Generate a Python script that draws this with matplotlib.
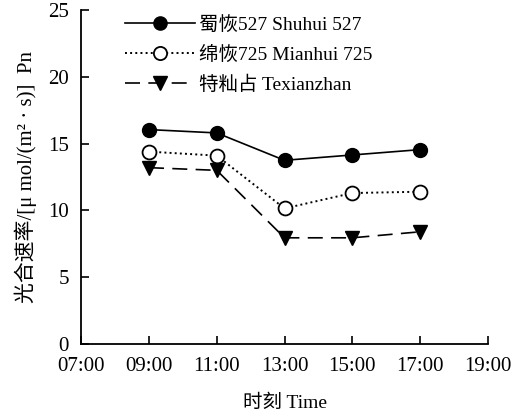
import matplotlib.pyplot as plt

plt.rcParams['font.family'] = ['Liberation Serif', 'Noto Sans CJK SC']

hours = [9, 11, 13, 15, 17]
shuhui = [16.05, 15.8, 13.75, 14.15, 14.55]
mianhui = [14.4, 14.1, 10.15, 11.3, 11.4]
texianzhan = [13.2, 13.0, 7.95, 7.95, 8.4]

tick_hours = [7, 9, 11, 13, 15, 17, 19]
tick_labels = ['07:00', '09:00', '11:00', '13:00', '15:00', '17:00', '19:00']

fig = plt.figure(figsize=(5.24, 4.17), dpi=100)
ax = fig.add_axes([0.155, 0.175, 0.776, 0.801])

ax.plot(hours, shuhui, '-', color='black', lw=1.2, marker='o', ms=10,
        mfc='black', mec='black', label='蜀恢527 Shuhui 527')
ax.plot(hours, mianhui, ':', color='black', lw=1.4, marker='o', ms=10,
        mfc='white', mec='black', mew=1.3, label='绵恢725 Mianhui 725')
ax.plot(hours, texianzhan, color='black', lw=1.2, dashes=(9, 5), marker='v', ms=10,
        mfc='black', mec='black', label='特籼占 Texianzhan')

ax.set_xlim(7, 19)
ax.set_ylim(0, 25)
ax.set_xticks(tick_hours)
ax.set_xticklabels(tick_labels)
ax.set_yticks([0, 5, 10, 15, 20, 25])
ax.tick_params(direction='in', length=6, width=1.2, labelsize=15, pad=9)
for s in ['top', 'right']:
    ax.spines[s].set_visible(False)
for s in ['left', 'bottom']:
    ax.spines[s].set_linewidth(1.3)

ax.set_ylabel('光合速率/[μ mol/(m² · s)]  Pn', fontsize=15, labelpad=8)
ax.set_xlabel('时刻 Time', fontsize=14, labelpad=14)

ax.legend(loc='upper left', bbox_to_anchor=(0.065, 1.035), frameon=False,
          fontsize=14, handlelength=3.6, handletextpad=0.2, labelspacing=0.6,
          markerscale=0.95)

plt.savefig('out.png', dpi=100)
